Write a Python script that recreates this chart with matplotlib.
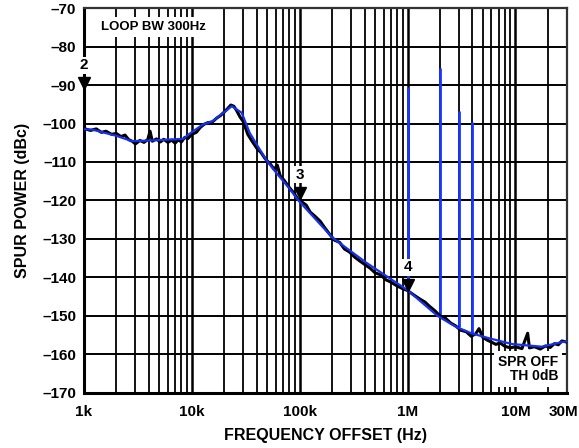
import matplotlib
matplotlib.use("Agg")
import matplotlib.pyplot as plt
import matplotlib.transforms as mtransforms
from matplotlib.ticker import FixedLocator, LogLocator, NullFormatter

plt.rcParams["font.family"] = ["Liberation Sans", "DejaVu Sans"]
plt.rcParams["font.weight"] = "bold"

# raw measured trace (black, noisy)
raw_f = [1e3, 1.15e3, 1.3e3, 1.45e3, 1.6e3, 1.8e3, 2e3, 2.2e3, 2.4e3, 2.6e3,
         2.8e3, 3e3, 3.3e3, 3.6e3, 3.9e3, 4.1e3, 4.3e3, 4.7e3, 5.1e3, 5.5e3,
         6e3, 6.5e3, 7e3, 7.5e3, 8e3, 8.6e3, 9.2e3, 10e3, 11e3, 12e3,
         13e3, 14e3, 15.5e3, 17e3, 18.5e3, 20e3, 21.5e3, 23e3, 24.5e3, 26e3,
         28e3, 30e3, 33e3, 36e3, 40e3, 44e3, 48e3, 53e3, 58e3, 62e3,
         66e3, 72e3, 80e3, 88e3, 96e3, 105e3, 115e3, 125e3, 140e3, 155e3,
         170e3, 190e3, 210e3, 235e3, 260e3, 290e3, 320e3, 360e3, 400e3, 450e3,
         500e3, 560e3, 630e3, 700e3, 800e3, 900e3, 1e6, 1.15e6, 1.3e6, 1.45e6,
         1.6e6, 1.8e6, 2e6, 2.25e6, 2.5e6, 2.8e6, 3.1e6, 3.5e6, 3.9e6, 4.3e6,
         4.6e6, 5e6, 5.5e6, 6e6, 6.6e6, 7.2e6, 8e6, 9e6, 10e6, 11.5e6,
         13e6, 13.5e6, 15e6, 17e6, 19e6, 21e6, 23e6, 25e6, 27e6, 30e6]
raw_db = [-101.3, -101.8, -101.4, -102.3, -102.0, -102.8, -102.6, -103.4, -103.0, -104.2,
          -104.6, -105.3, -104.4, -104.9, -104.2, -102.0, -104.6, -104.0, -104.8, -104.1,
          -104.9, -104.3, -105.1, -104.2, -104.8, -103.6, -103.9, -102.8, -102.3, -101.0,
          -100.2, -99.8, -99.6, -98.6, -97.9, -97.0, -96.1, -95.2, -95.5, -96.6,
          -98.3, -99.5, -102.8, -104.5, -106.4, -107.6, -109.2, -110.4, -111.9, -110.8,
          -113.6, -114.8, -116.6, -118.0, -119.6, -120.4, -121.2, -123.0, -124.2, -125.4,
          -127.0, -128.8, -130.3, -130.9, -132.6, -133.4, -134.6, -135.7, -136.6, -137.6,
          -138.8, -139.3, -140.6, -141.2, -142.2, -142.9, -143.4, -144.6, -145.6, -146.4,
          -147.5, -148.7, -150.0, -150.6, -151.8, -152.6, -153.7, -154.1, -155.3, -154.6,
          -153.3, -155.6, -156.3, -156.8, -157.4, -157.0, -157.9, -158.3, -158.0, -158.5,
          -154.5, -158.3, -158.0, -158.6, -157.8, -158.2, -157.2, -157.5, -156.5, -156.8]

# averaged trace (blue)
avg_f = [1e3, 1.2e3, 2e3, 2.8e3, 5e3, 8.3e3, 9.6e3, 12.6e3, 15.6e3, 19.4e3,
         23.5e3, 29e3, 34.5e3, 49e3, 61e3, 80e3, 96e3, 202e3, 416e3, 1e6,
         1.9e6, 2.8e6, 3.9e6, 5.7e6, 9.3e6, 17.6e6, 27e6, 30e6]
avg_db = [-101.5, -101.6, -103.2, -104.6, -104.3, -104.0, -102.6, -100.3, -99.4, -97.3,
          -95.5, -97.2, -102.5, -109.5, -112.9, -116.8, -119.8, -129.7, -136.2, -143.3,
          -150.0, -152.8, -154.5, -155.8, -157.3, -158.0, -156.8, -156.6]

# spurs
spur_f = [1e6, 2e6, 3e6, 4e6]
spur_top = [-90.5, -85.5, -96.8, -99.6]
spur_base = [-143.3, -150.2, -153.0, -154.6]

# markers
mark_f = [1e3, 1e5, 1e6]
mark_db = [-89.5, -118.0, -142.0]
mark_lbl = ["2", "3", "4"]

xticks = [1e3, 1e4, 1e5, 1e6, 1e7, 3e7]
xtick_lbl = ["1k", "10k", "100k", "1M", "10M", "30M"]
yticks = list(range(-170, -69, 10))

fig = plt.figure(figsize=(5.79, 4.48), dpi=100)
ax = fig.add_axes([0.145, 0.123, 0.834, 0.859])
ax.set_xscale("log")
ax.set_xlim(1e3, 3e7)
ax.set_ylim(-170, -70)

ax.xaxis.set_major_locator(FixedLocator(xticks))
ax.set_xticklabels(xtick_lbl)
ax.xaxis.set_minor_locator(LogLocator(base=10, subs=range(2, 10)))
ax.xaxis.set_minor_formatter(NullFormatter())
ax.set_yticks(yticks)
ax.set_yticklabels([f"\u2013{abs(v)}" for v in yticks])

ax.grid(True, which="major", axis="x", color="black", lw=1.8)
ax.grid(True, which="minor", axis="x", color="black", lw=1.3)
ax.grid(True, which="major", axis="y", color="black", lw=1.4)
ax.tick_params(which="both", length=0, labelsize=11)
ax.tick_params(axis="x", pad=9)
ax.tick_params(axis="y", pad=5.5)
for lab in ax.get_xticklabels() + ax.get_yticklabels():
    lab.set_fontweight("bold")
# keep the last x label inside the canvas
last = ax.get_xticklabels()[-1]
last.set_transform(last.get_transform() +
                   mtransforms.ScaledTranslation(-3 / 100, 0, fig.dpi_scale_trans))
for s in ["left", "bottom"]:
    ax.spines[s].set_linewidth(2.2)
for s in ["top", "right"]:
    ax.spines[s].set_linewidth(1.6)
    ax.spines[s].set_color("#333333")

ax.vlines(spur_f, spur_base, spur_top, color="#1a35ff", lw=2, zorder=3)
ax.plot(raw_f, raw_db, color="black", lw=2.2, zorder=4)
ax.plot(avg_f, avg_db, color="#1530f0", lw=1.6, zorder=5)

for f, d, t in zip(mark_f, mark_db, mark_lbl):
    ax.plot(f, d, marker="v", color="black", ms=9, clip_on=False, zorder=7)
    ax.annotate(t, (f, d), xytext=(0, 13), textcoords="offset points",
                ha="center", va="center", fontsize=11, fontweight="bold",
                annotation_clip=False, zorder=8,
                bbox=dict(boxstyle="square,pad=0.1", fc="white", ec="none"))

ax.text(0.036, 0.951, "LOOP BW 300Hz", transform=ax.transAxes, fontsize=9.5,
        fontweight="bold", ha="left", va="center", zorder=6,
        bbox=dict(boxstyle="square,pad=0.3", fc="white", ec="none"))
ax.text(0.982, 0.062, "SPR OFF\nTH 0dB", transform=ax.transAxes, fontsize=10,
        fontweight="bold", ha="right", va="center", linespacing=1.05, zorder=6,
        bbox=dict(boxstyle="square,pad=0.25", fc="white", ec="none"))

ax.set_xlabel("FREQUENCY OFFSET (Hz)", fontsize=11.5, fontweight="bold", labelpad=6)
ax.set_ylabel("SPUR POWER (dBc)", fontsize=11.5, fontweight="bold", labelpad=9)

fig.savefig("out.png", dpi=100)
